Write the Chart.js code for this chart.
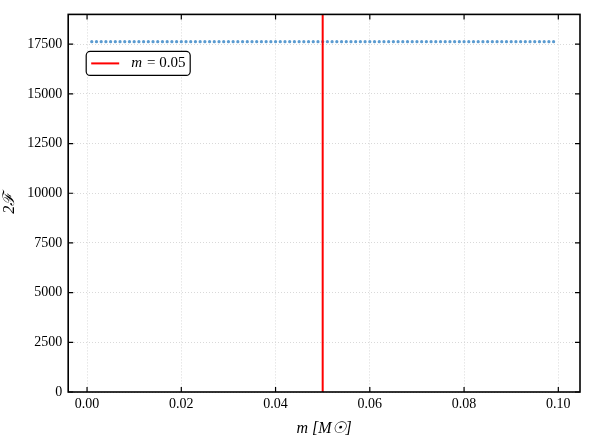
<!DOCTYPE html>
<html><head><meta charset="utf-8">
<script src="https://cdn.jsdelivr.net/npm/chart.js@4"></script>
<style>html,body{margin:0;padding:0;background:#fff}#w{width:590px;height:440px}</style>
</head><body><div id="w"><canvas id="c"></canvas></div>
<script>
const masses = [0.001,0.002,0.003,0.004,0.005,0.006,0.007,0.008,0.009,0.010,
0.011,0.012,0.013,0.014,0.015,0.016,0.017,0.018,0.019,0.020,
0.021,0.022,0.023,0.024,0.025,0.026,0.027,0.028,0.029,0.030,
0.031,0.032,0.033,0.034,0.035,0.036,0.037,0.038,0.039,0.040,
0.041,0.042,0.043,0.044,0.045,0.046,0.047,0.048,0.049,0.050,
0.051,0.052,0.053,0.054,0.055,0.056,0.057,0.058,0.059,0.060,
0.061,0.062,0.063,0.064,0.065,0.066,0.067,0.068,0.069,0.070,
0.071,0.072,0.073,0.074,0.075,0.076,0.077,0.078,0.079,0.080,
0.081,0.082,0.083,0.084,0.085,0.086,0.087,0.088,0.089,0.090,
0.091,0.092,0.093,0.094,0.095,0.096,0.097,0.098,0.099];
const twoF = [17630,17630,17630,17630,17630,17630,17630,17630,17630,17630,
17630,17630,17630,17630,17630,17630,17630,17630,17630,17630,
17630,17630,17630,17630,17630,17630,17630,17630,17630,17630,
17630,17630,17630,17630,17630,17630,17630,17630,17630,17630,
17630,17630,17630,17630,17630,17630,17630,17630,17630,17630,
17630,17630,17630,17630,17630,17630,17630,17630,17630,17630,
17630,17630,17630,17630,17630,17630,17630,17630,17630,17630,
17630,17630,17630,17630,17630,17630,17630,17630,17630,17630,
17630,17630,17630,17630,17630,17630,17630,17630,17630,17630,
17630,17630,17630,17630,17630,17630,17630,17630,17630];
const markerMass = 0.05;
const markerLabel = 'm = 0.05';
const xTicks = [0.00,0.02,0.04,0.06,0.08,0.10];
const yTicks = [0,2500,5000,7500,10000,12500,15000,17500];

const FONT = '"Liberation Serif", "DejaVu Serif", serif';
Chart.defaults.font.family = FONT;
Chart.defaults.font.size = 14;
Chart.defaults.color = '#000';

const inTicks = {
  id:'inTicks',
  afterDraw(ch){
    const {ctx, chartArea:a, scales:{x,y}} = ch;
    ctx.save(); ctx.strokeStyle='#000'; ctx.lineWidth=1.2;
    ctx.beginPath();
    xTicks.forEach(v=>{const p=x.getPixelForValue(v);ctx.moveTo(p,a.bottom);ctx.lineTo(p,a.bottom-5);ctx.moveTo(p,a.top);ctx.lineTo(p,a.top+5);});
    yTicks.forEach(v=>{const p=y.getPixelForValue(v);ctx.moveTo(a.left,p);ctx.lineTo(a.left+5,p);ctx.moveTo(a.right,p);ctx.lineTo(a.right-5,p);});
    ctx.stroke();
    ctx.lineWidth=1.6; ctx.strokeRect(a.left,a.top,a.right-a.left,a.bottom-a.top);
    // legend
    const bx=a.left+18, by=a.top+37, bw=104, bh=24;
    ctx.fillStyle='rgba(255,255,255,0.9)'; ctx.strokeStyle='#000'; ctx.lineWidth=1.2;
    ctx.beginPath(); ctx.roundRect(bx,by,bw,bh,4); ctx.fill(); ctx.stroke();
    ctx.strokeStyle='red'; ctx.lineWidth=2; ctx.beginPath(); ctx.moveTo(bx+5,by+12); ctx.lineTo(bx+33,by+12); ctx.stroke();
    ctx.fillStyle='#000'; ctx.textBaseline='middle';
    ctx.font='italic 15px '+FONT; ctx.fillText('m',bx+45,by+12);
    ctx.font='15px '+FONT; ctx.fillText(markerLabel.slice(1),bx+57,by+12);
    ctx.restore();
  }
};

new Chart(document.getElementById('c'), {
  type:'scatter',
  data:{datasets:[
    {label:'2F', data:masses.map((m,i)=>({x:m,y:twoF[i]})), pointRadius:1.6, pointBorderWidth:0, backgroundColor:'#5b9bd0', order:2},
    {label:markerLabel, type:'line', data:[{x:markerMass,y:0},{x:markerMass,y:19000}], borderColor:'red', borderWidth:2, pointRadius:0, showLine:true, order:1}
  ]},
  options:{
    responsive:true, maintainAspectRatio:false, animation:false,
    layout:{padding:{left:0,right:10,top:10,bottom:2}},
    plugins:{legend:{display:false}, tooltip:{enabled:false}},
    scales:{
      x:{type:'linear', min:-0.004, max:0.1046,
        afterBuildTicks:s=>{s.ticks=xTicks.map(v=>({value:v}));},
        ticks:{callback:v=>v.toFixed(2), padding:4, maxRotation:0},
        grid:{color:'#cfcfcf', lineWidth:0.8, drawTicks:false, tickLength:0},
        border:{display:false, dash:[1,2]},
        title:{display:true, text:'m [M☉]', font:{size:16, style:'italic'}, padding:{top:2,bottom:0}}},
      y:{min:0, max:19000,
        afterBuildTicks:s=>{s.ticks=yTicks.map(v=>({value:v}));},
        ticks:{padding:6, callback:v=>String(v)},
        grid:{color:'#cfcfcf', lineWidth:0.8, drawTicks:false, tickLength:0},
        border:{display:false, dash:[1,2]},
        title:{display:true, text:'2ℱ', font:{size:16, style:'italic'}, padding:{top:0,bottom:2}}}
    }
  },
  plugins:[inTicks]
});
</script></body></html>
